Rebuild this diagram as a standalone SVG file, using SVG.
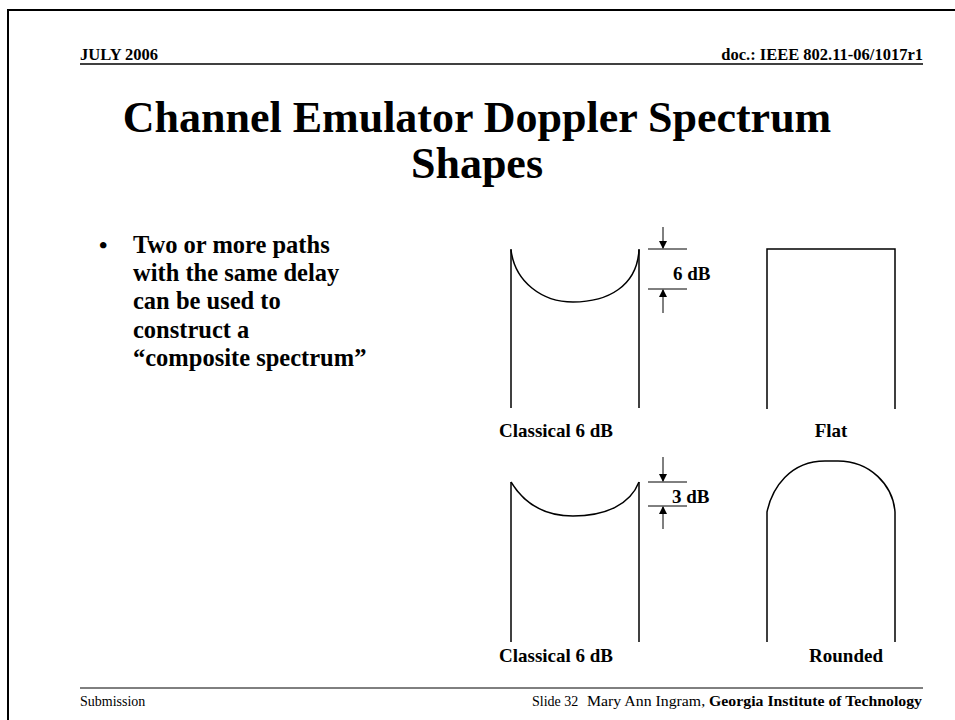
<svg xmlns="http://www.w3.org/2000/svg" width="955" height="720" viewBox="0 0 955 720">
<defs>
<marker id="ah" markerWidth="8" markerHeight="8" refX="7" refY="4" orient="auto" markerUnits="userSpaceOnUse">
<path d="M0,0 L8,4 L0,8 z" fill="#000"/>
</marker>
</defs>
<style>
.t{font-family:"Liberation Serif","Times New Roman",serif;fill:#000}
.b{font-weight:bold}
.lbl{font-size:19px;font-weight:bold}
.ln{stroke:#000;stroke-width:1.5;fill:none}
.thin{stroke:#000;stroke-width:1;fill:none}
</style>
<rect width="955" height="720" fill="#fff"/>
<path d="M8,720 L8,10 L955,10" stroke="#000" stroke-width="2" fill="none"/>
<g id="header">
<text class="t b" x="80" y="60" font-size="16.5">JULY 2006</text>
<text class="t b" x="923" y="60" font-size="16.5" text-anchor="end">doc.: IEEE 802.11-06/1017r1</text>
<line x1="80" y1="64" x2="923" y2="64" stroke="#000" stroke-width="1.5"/>
</g>
<g id="title">
<text class="t b" x="477" y="132" font-size="44" text-anchor="middle">Channel Emulator Doppler Spectrum</text>
<text class="t b" x="477" y="178" font-size="44" text-anchor="middle">Shapes</text>
</g>
<g id="bullets">
<text class="t b" x="99" y="253" font-size="24">•</text>
<text class="t b" font-size="24.5">
<tspan x="133" y="253">Two or more paths</tspan>
<tspan x="133" y="281">with the same delay</tspan>
<tspan x="133" y="309">can be used to</tspan>
<tspan x="133" y="338">construct a</tspan>
<tspan x="133" y="366">“composite spectrum”</tspan>
</text>
</g>
<g id="classical6">
<line class="ln" x1="511" y1="249" x2="511" y2="408"/>
<line class="ln" x1="639" y1="249" x2="639" y2="408"/>
<path class="ln" d="M511,250 C515,282 542,302 573,302 C608,302 637,286 639,250"/>
<text class="t lbl" x="556" y="437" text-anchor="middle">Classical 6 dB</text>
</g>
<g id="dim6">
<line class="thin" x1="648" y1="249" x2="687" y2="249"/>
<line class="thin" x1="648" y1="289" x2="687" y2="289"/>
<line class="thin" x1="663" y1="227" x2="663" y2="248" marker-end="url(#ah)"/>
<line class="thin" x1="663" y1="313" x2="663" y2="290" marker-end="url(#ah)"/>
<text class="t lbl" x="673" y="280">6 dB</text>
</g>
<g id="flat">
<path class="ln" d="M767,409 L767,249 L895,249 L895,409"/>
<text class="t lbl" x="831" y="437" text-anchor="middle">Flat</text>
</g>
<g id="classical3">
<line class="ln" x1="511" y1="482" x2="511" y2="642"/>
<line class="ln" x1="639" y1="482" x2="639" y2="642"/>
<path class="ln" d="M511,482 C525,505 545,516 573,516 C605,516 630,505 639,482"/>
<text class="t lbl" x="556" y="662" text-anchor="middle">Classical 6 dB</text>
</g>
<g id="dim3">
<line class="thin" x1="648" y1="482" x2="687" y2="482"/>
<line class="thin" x1="648" y1="506" x2="687" y2="506"/>
<line class="thin" x1="663" y1="457" x2="663" y2="481" marker-end="url(#ah)"/>
<line class="thin" x1="663" y1="529" x2="663" y2="507" marker-end="url(#ah)"/>
<text class="t lbl" x="672" y="503">3 dB</text>
</g>
<g id="rounded">
<path class="ln" d="M767,642 L767,512 C772,488 790,461 825,461 L838,461 C870,461 893,485 895,512 L895,642"/>
<text class="t lbl" x="846" y="662" text-anchor="middle">Rounded</text>
</g>
<g id="footer">
<line x1="80" y1="688" x2="923" y2="688" stroke="#000" stroke-width="1"/>
<text class="t" x="80" y="706" font-size="14">Submission</text>
<text class="t" x="532" y="706" font-size="14">Slide 32</text>
<text class="t" x="587" y="706" font-size="15" textLength="335" lengthAdjust="spacingAndGlyphs">Mary Ann Ingram, <tspan class="b">Georgia Institute of Technology</tspan></text>
</g>
</svg>
